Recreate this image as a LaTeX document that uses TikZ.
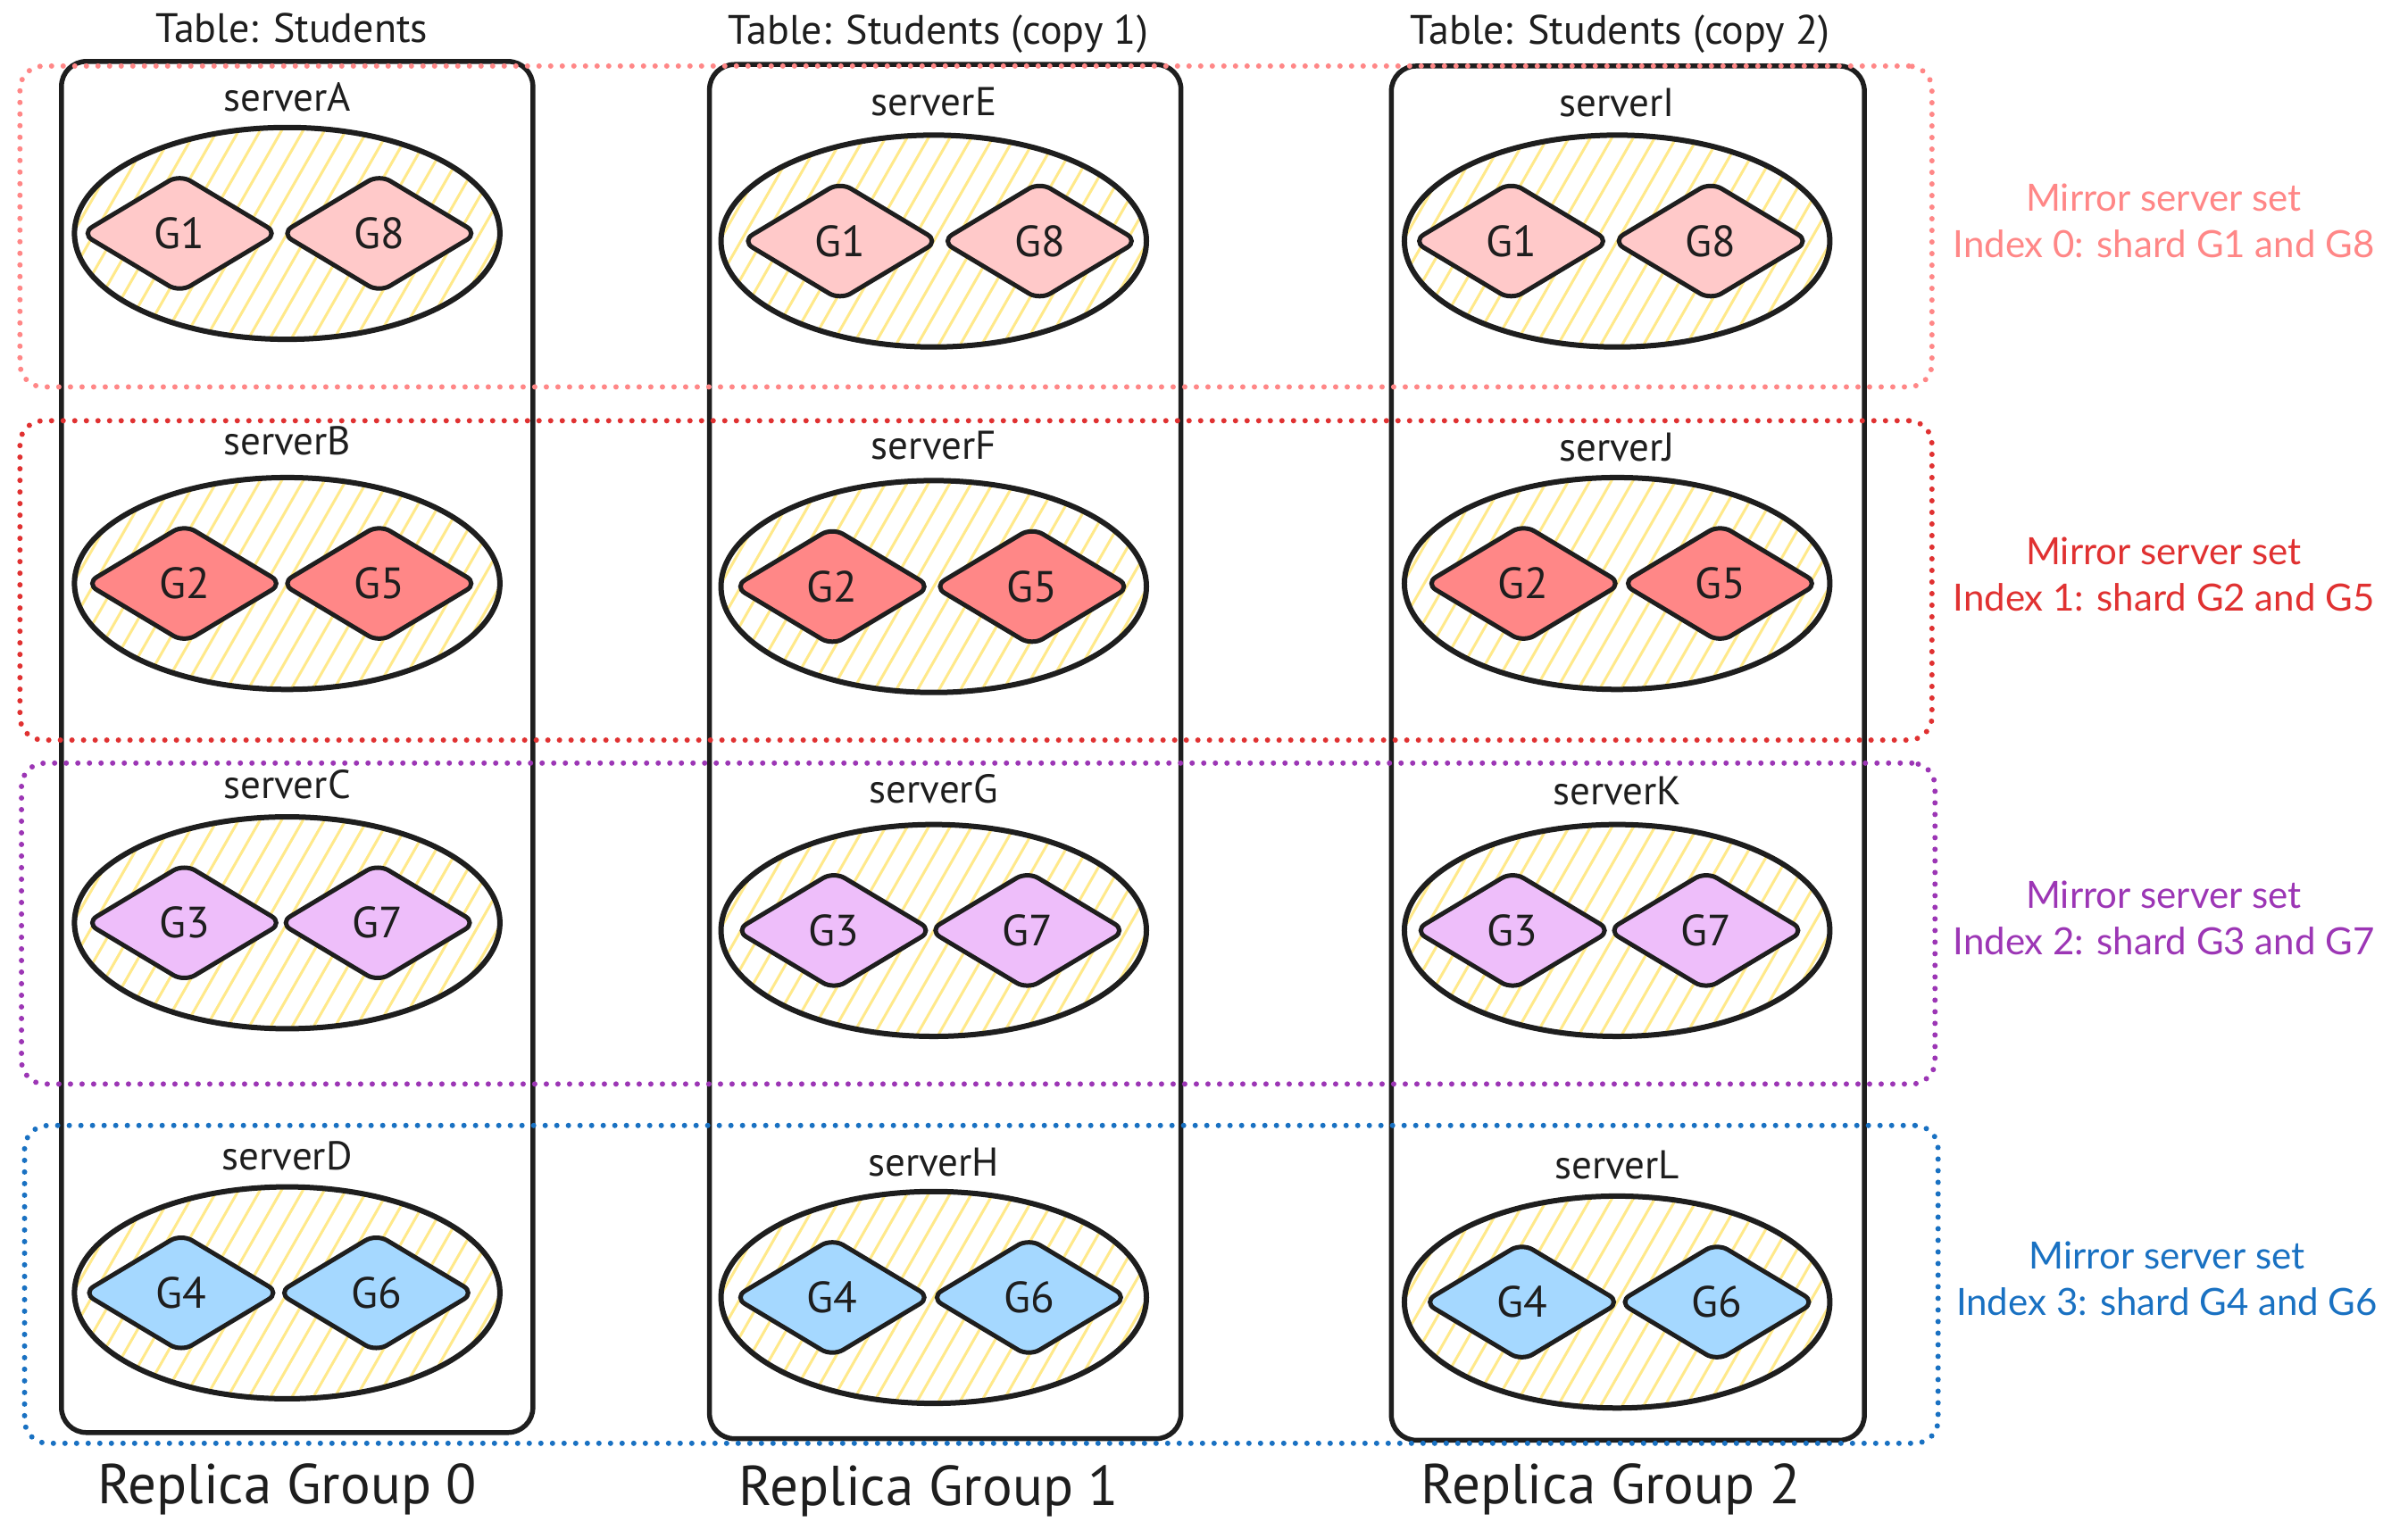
\documentclass[tikz,border=0pt]{standalone}
\usepackage{fontspec}
\setmainfont{PT Sans}
\newfontfamily\notefont{Lato}
\usetikzlibrary{shapes.geometric,calc}

\definecolor{inkblack}{HTML}{1E1E1E}
\definecolor{setpink}{HTML}{FF8787}
\definecolor{setred}{HTML}{E03131}
\definecolor{setpurple}{HTML}{9C36B5}
\definecolor{setblue}{HTML}{1971C2}
\definecolor{fillpink}{HTML}{FFC9C9}
\definecolor{fillred}{HTML}{FF8787}
\definecolor{fillpurple}{HTML}{EEBEFA}
\definecolor{fillblue}{HTML}{A5D8FF}
\definecolor{hatchyellow}{HTML}{FFE98A}

% one drawing unit
\def\pxu{1.72pt}

\tikzset{
  replica/.style={draw=inkblack, line width=5.5pt, rounded corners=28pt, inner sep=0pt},
  setbox/.style={draw=#1, line width=6pt, dash pattern=on 0pt off 13pt,
    line cap=round, rounded corners=26pt, inner sep=0pt},
  server/.style={ellipse, draw=inkblack, line width=6pt, inner sep=0pt,
    minimum width=277*\pxu, minimum height=138*\pxu,
    path picture={\foreach \k in {-16,...,16}{
      \draw[hatchyellow, line width=3pt]
        ($(path picture bounding box.center)+(\k*24pt-80pt,-140pt)$) -- ++(160pt,280pt);}}},
  shard/.style={diamond, draw=inkblack, line width=5pt, rounded corners=14pt,
    minimum width=222pt, minimum height=134pt, inner sep=0pt,
    font=\fontsize{49}{52}\selectfont, text=inkblack},
  srvlabel/.style={inner sep=0pt, text=inkblack, font=\fontsize{45}{50}\selectfont},
  title/.style={inner sep=0pt, text=inkblack, font=\fontsize{46}{50}\selectfont},
  group/.style={inner sep=0pt, text=inkblack, font=\fontsize{63}{70}\selectfont},
  note/.style={inner sep=0pt, align=center, text=#1,
    font=\notefont\fontsize{42}{52}\selectfont},
}

% name, ellipse x, ellipse y, label y, fill, left shard, its x, right shard, its x
\newcommand\serverunit[9]{%
  \node[srvlabel] (lbl#1) at (#2,#4) {server#1};
  \node[server] (srv#1) at (#2,#3) {};
  \node[shard, fill=#5] (g#1#6) at (#7,#3) {G#6};
  \node[shard, fill=#5] (g#1#8) at (#9,#3) {G#8};
}

\begin{document}
\begin{tikzpicture}[x=1.72pt, y=-1.72pt]
\useasboundingbox (0,0) rectangle (1568,991);
\fill[white] (0,0) rectangle (1568,991);

% replica groups
\node[replica, minimum width=307*\pxu, minimum height=893*\pxu] (rg0) at (193.5,486.5) {};
\node[replica, minimum width=307*\pxu, minimum height=895*\pxu] (rg1) at (615.5,489.5) {};
\node[replica, minimum width=308*\pxu, minimum height=895*\pxu] (rg2) at (1060,490.5) {};

\node[title] (t0) at (190,18) {Table: Students};
\node[title] (t1) at (611,22) {Table: Students (copy 1)};
\node[title] (t2) at (1055,22) {Table: Students (copy 2)};

\node[group] (n0) at (187,970) {Replica Group 0};
\node[group] (n1) at (605,971) {Replica Group 1};
\node[group] (n2) at (1049,970) {Replica Group 2};

% servers and their shards
\serverunit{A}{187}{152}{63}{fillpink}{1}{117}{8}{247}
\serverunit{B}{187}{380}{287}{fillred}{2}{120}{5}{247}
\serverunit{C}{187}{601}{511}{fillpurple}{3}{120}{7}{246}
\serverunit{D}{187}{842}{753}{fillblue}{4}{118}{6}{245}
\serverunit{E}{608}{157}{66}{fillpink}{1}{547}{8}{677}
\serverunit{F}{608}{382}{290}{fillred}{2}{542}{5}{672}
\serverunit{G}{608}{606}{514}{fillpurple}{3}{543}{7}{669}
\serverunit{H}{608}{845}{757}{fillblue}{4}{542}{6}{670}
\serverunit{I}{1053}{157}{67}{fillpink}{1}{984}{8}{1114}
\serverunit{J}{1053}{380}{291}{fillred}{2}{992}{5}{1120}
\serverunit{K}{1053}{606}{515}{fillpurple}{3}{985}{7}{1111}
\serverunit{L}{1053}{848}{759}{fillblue}{4}{991}{6}{1118}

% mirror server sets
\node[setbox=setpink, minimum width=1245*\pxu, minimum height=209*\pxu] (set0) at (635.5,147.5) {};
\node[setbox=setred, minimum width=1245*\pxu, minimum height=208*\pxu] (set1) at (635.5,378) {};
\node[setbox=setpurple, minimum width=1246*\pxu, minimum height=209*\pxu] (set2) at (637,601.5) {};
\node[setbox=setblue, minimum width=1246*\pxu, minimum height=207*\pxu] (set3) at (639,836.5) {};

\node[note=setpink] (note0) at (1409,144) {Mirror server set\\Index 0: shard G1 and G8};
\node[note=setred] (note1) at (1409,374) {Mirror server set\\Index 1: shard G2 and G5};
\node[note=setpurple] (note2) at (1409,598) {Mirror server set\\Index 2: shard G3 and G7};
\node[note=setblue] (note3) at (1411,833) {Mirror server set\\Index 3: shard G4 and G6};
\end{tikzpicture}
\end{document}
